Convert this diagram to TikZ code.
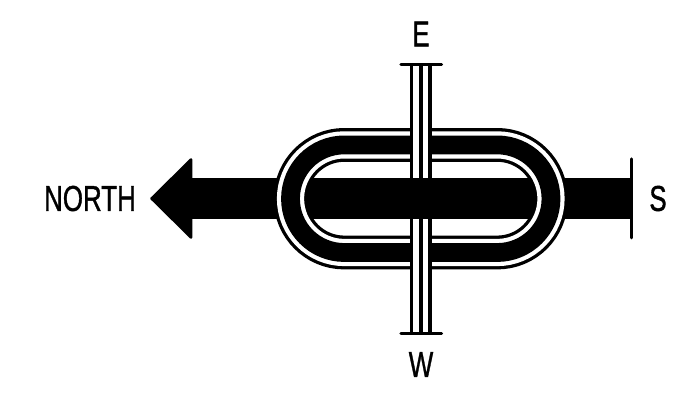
\documentclass[tikz,border=0pt]{standalone}
\usepackage{fontspec}
\setmainfont{Liberation Sans}
\newfontfamily\labelfont{Liberation Sans}[FakeBold=1.2]
\begin{document}
\begin{tikzpicture}[
    x=1pt, y=-1pt,
    label/.style={inner sep=0pt, font=\labelfont\fontsize{36}{36}\selectfont, xscale=0.72},
    bar/.style={line width=41.6pt, black},
    tick/.style={line width=3.2pt, line cap=round, black},
    rail/.style={line width=3.6pt, black},
    trackline/.style={line width=#1, line join=round}
  ]
    \useasboundingbox (0,0) rectangle (692,394);
    \coordinate (barw) at (190,198.5);
    \coordinate (bare) at (631.7,198.5);
    \coordinate (midw) at (340,198.5);
    \coordinate (mide) at (500,198.5);
    \coordinate (stopn) at (631.7,159);
    \coordinate (stops) at (631.7,237.8);
    \def\trackpath{(344.3,144.9) -- (497.2,144.9) arc[start angle=90, end angle=-90, radius=53.8pt] -- (344.3,252.5) arc[start angle=-90, end angle=-270, radius=53.8pt] -- cycle}
    % main bar
    \draw[bar] (barw) -- (bare);
    \draw[tick] (stopn) -- (stops);
    \fill[black, draw=black, line width=2.5pt, line join=round] (151.5,198.5) -- (191,159.5) -- (191,237.5) -- cycle;
    % oval track
    \draw[trackline=33.8pt, black] \trackpath;
    \draw[trackline=27.2pt, white] \trackpath;
    \draw[trackline=18.8pt, black] \trackpath;
    % crossing
    \coordinate (capel) at (401,64.8);
    \coordinate (caper) at (441.5,64.8);
    \coordinate (capwl) at (401,333.6);
    \coordinate (capwr) at (441.5,333.6);
    \coordinate (lefte) at (411.5,64.8);
    \coordinate (leftw) at (411.5,333.6);
    \coordinate (cente) at (420.8,64.8);
    \coordinate (centw) at (420.8,333.6);
    \coordinate (righte) at (430.2,64.8);
    \coordinate (rightw) at (430.2,333.6);
    \fill[white] (lefte) rectangle (rightw);
    \draw[rail] (lefte) -- (leftw);
    \draw[rail] (cente) -- (centw);
    \draw[rail] (righte) -- (rightw);
    \draw[tick] (capel) -- (caper);
    \draw[tick] (capwl) -- (capwr);
    \draw[bar] (midw) -- (mide);
    % labels
    \node[label] (north) at (90,198.5) {NORTH};
    \node[label] (south) at (658,198.5) {S};
    \node[label] (east) at (421,34) {E};
    \node[label] (west) at (421,364.5) {W};
  \end{tikzpicture}
\end{document}
